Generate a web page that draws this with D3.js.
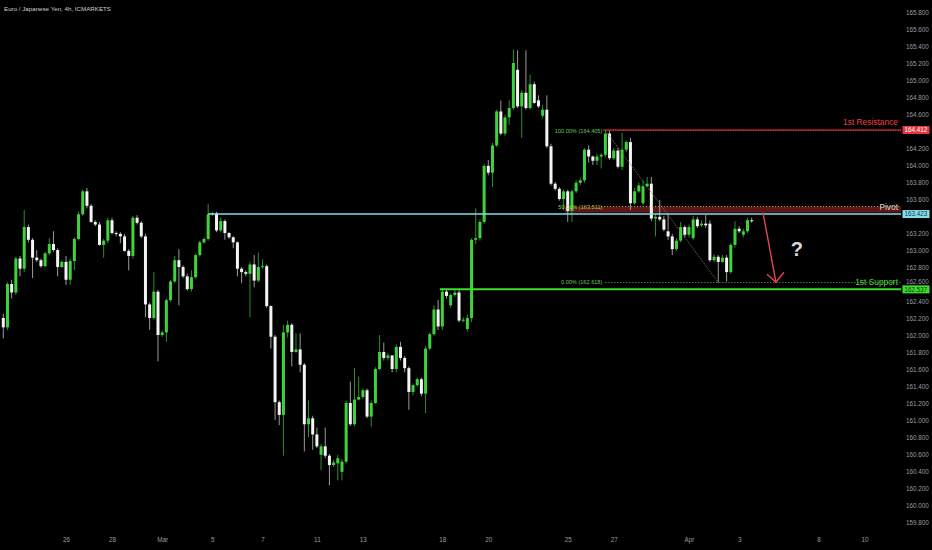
<!DOCTYPE html>
<html><head><meta charset="utf-8">
<script src="https://cdn.jsdelivr.net/npm/d3@7"></script>
<style>html,body{margin:0;background:#000;}svg{display:block;}</style>
</head><body>
<svg id="c" width="932" height="550"></svg>
<script>
const opens=[162.20,162.09,162.60,162.50,162.90,162.78,163.27,163.12,162.91,162.88,162.81,162.96,163.07,163.00,162.80,162.86,162.65,162.87,163.13,163.42,
163.69,163.52,163.33,163.30,163.06,163.11,163.35,163.20,163.19,163.16,162.99,162.93,163.38,163.32,163.16,162.36,162.20,162.51,162.00,162.03,
162.41,162.63,162.88,162.80,162.69,162.54,162.68,162.94,163.09,163.13,163.42,163.43,163.23,163.34,163.20,163.15,163.09,162.78,162.74,162.72,
162.83,162.64,162.80,162.81,162.34,161.98,161.21,161.06,162.03,162.12,161.80,161.83,161.65,160.95,161.02,160.83,160.59,160.69,160.58,160.47,
160.49,160.39,160.51,161.20,160.95,161.24,161.27,161.35,161.04,161.20,161.60,161.80,161.73,161.76,161.60,161.86,161.73,161.61,161.33,161.41,
161.48,161.31,161.84,162.01,162.30,162.10,162.51,162.35,162.47,162.50,162.17,162.07,162.20,163.12,163.14,163.33,163.99,163.91,164.23,164.63,
164.37,164.56,164.67,165.12,164.69,164.85,164.67,164.95,164.76,164.58,164.65,164.22,163.78,163.72,163.60,163.69,163.46,163.69,163.79,163.82,
164.18,164.10,164.05,164.10,164.12,164.37,164.08,164.17,163.98,164.18,164.27,163.55,163.69,163.55,163.75,163.78,163.37,163.39,163.36,163.22,
163.16,163.01,163.11,163.27,163.18,163.14,163.36,163.29,163.31,163.31,162.88,162.92,162.86,162.91,162.74,163.06,163.25,163.18,163.22,163.35];
const highs=[162.25,162.62,162.65,162.92,162.93,163.47,163.30,163.14,163.00,162.90,162.98,163.14,163.22,163.02,162.88,162.93,162.90,163.15,163.45,163.71,
163.73,163.54,163.35,163.33,163.13,163.38,163.38,163.22,163.21,163.19,163.01,163.40,163.41,163.34,163.19,162.38,162.74,162.53,162.05,162.43,
162.65,162.93,163.01,162.82,162.72,162.76,162.96,163.11,163.15,163.54,163.45,163.45,163.38,163.36,163.21,163.16,163.10,162.80,162.76,162.86,
162.94,162.97,162.89,162.83,162.35,162.00,161.23,162.12,162.17,162.14,162.02,162.02,161.67,161.23,161.05,160.91,160.72,160.91,160.60,160.53,
160.59,160.54,161.23,161.45,161.61,161.51,161.37,161.37,161.23,161.62,162.00,161.91,161.79,161.76,161.89,161.92,161.75,161.63,161.43,161.50,
161.50,161.87,162.03,162.35,162.41,162.55,162.54,162.49,162.54,162.53,162.21,162.24,163.14,163.49,163.36,164.01,164.06,164.26,164.65,164.76,
164.59,164.76,165.36,165.35,164.88,165.35,165.06,164.98,164.82,164.71,164.82,164.25,163.80,163.74,163.71,163.71,163.71,163.82,163.85,164.20,
164.23,164.11,164.13,164.14,164.405,164.40,164.20,164.20,164.38,164.29,164.32,163.73,163.79,163.82,163.86,163.86,163.42,163.59,163.40,163.43,
163.19,163.14,163.33,163.29,163.30,163.40,163.39,163.35,163.41,163.35,162.95,162.94,162.94,162.94,163.08,163.34,163.28,163.25,163.38,163.38];
const lows=[161.96,162.06,162.43,162.47,162.69,162.74,163.09,162.67,162.86,162.79,162.80,162.94,162.98,162.69,162.79,162.59,162.59,162.76,163.11,163.40,
163.49,163.32,163.28,163.05,162.91,163.08,163.18,163.16,163.08,162.98,162.76,162.90,163.30,163.14,162.21,162.06,162.18,161.69,161.98,161.92,
162.39,162.61,162.35,162.67,162.52,162.51,162.66,162.92,163.07,163.11,163.40,163.21,163.21,163.12,163.13,163.02,162.69,162.61,162.69,162.21,
162.56,162.62,162.78,162.32,161.84,161.00,160.94,160.58,161.97,161.63,161.79,161.56,160.63,160.80,160.65,160.67,160.41,160.55,160.23,160.45,
160.29,160.29,160.49,160.93,160.93,161.23,161.25,161.02,160.92,161.19,161.58,161.70,161.70,161.56,161.56,161.70,161.56,161.12,161.29,161.39,
161.28,161.08,161.82,161.99,162.06,162.06,162.43,162.32,162.45,162.15,162.15,162.04,162.15,163.07,163.11,163.31,163.88,163.74,164.21,164.35,
164.34,164.47,164.65,164.67,164.32,164.65,164.65,164.72,164.67,164.55,164.20,163.76,163.70,163.58,163.47,163.33,163.33,163.67,163.76,163.79,
164.03,164.00,164.00,163.96,164.09,164.06,164.06,163.96,163.94,164.15,163.47,163.53,163.67,163.53,163.74,163.34,163.16,163.34,163.22,163.12,
162.94,162.99,163.09,163.15,163.15,163.12,163.26,163.27,163.26,162.86,162.86,162.62,162.85,162.63,162.72,163.03,163.20,163.15,163.20,163.32];
const closes=[162.09,162.60,162.50,162.90,162.78,163.27,163.12,162.91,162.88,162.81,162.96,163.07,163.00,162.80,162.86,162.65,162.87,163.13,163.42,163.69,
163.52,163.33,163.30,163.06,163.11,163.35,163.20,163.19,163.16,162.99,162.93,163.38,163.32,163.16,162.36,162.20,162.51,162.00,162.03,162.41,
162.63,162.88,162.80,162.69,162.54,162.68,162.94,163.09,163.13,163.42,163.43,163.23,163.34,163.20,163.15,163.09,162.78,162.74,162.72,162.83,
162.64,162.80,162.81,162.34,161.98,161.21,161.06,162.03,162.12,161.80,161.83,161.65,160.95,161.02,160.83,160.69,160.69,160.58,160.47,160.50,
160.55,160.51,161.20,160.95,161.24,161.27,161.35,161.04,161.20,161.60,161.80,161.73,161.76,161.60,161.86,161.73,161.61,161.33,161.41,161.48,
161.31,161.84,162.01,162.30,162.10,162.51,162.46,162.47,162.50,162.17,162.18,162.20,163.12,163.14,163.33,163.99,163.91,164.23,164.63,164.37,
164.56,164.67,165.20,164.69,164.85,164.67,164.95,164.73,164.69,164.65,164.22,163.78,163.72,163.60,163.69,163.46,163.69,163.79,163.82,164.18,
164.10,164.05,164.10,164.12,164.37,164.08,164.17,163.98,164.18,164.27,163.55,163.69,163.76,163.75,163.78,163.37,163.39,163.36,163.24,163.16,
163.01,163.11,163.27,163.18,163.27,163.36,163.28,163.31,163.29,162.88,162.92,162.86,162.91,162.74,163.06,163.25,163.22,163.22,163.35,163.34];

// 163.400 is hidden behind the pivot price box in the reference
const priceTicks=[165.8,165.6,165.4,165.2,165.0,164.8,164.6,164.4,164.2,164.0,163.8,163.6,163.2,163.0,162.8,162.6,162.4,162.2,162.0,161.8,161.6,161.4,161.2,161.0,160.8,160.6,160.4,160.2,160.0,159.8];
const dateLabels=["26","28","Mar","5","7","11","13","18","20","25","27","Apr","3","8","10"];
const dateIdx=[15,26,38,50,62,75,86,105,116,135,146,164,176,195,206];

const resistance=164.412, pivot=163.423, support=162.537;
const fibLevels=[164.405,163.511,162.618];
const fibNames=["100.00% (164.405)","50.00% (163.511)","0.00% (162.618)"];
const fibHighIdx=144, fibLowIdx=171;
const arrowFrom={i:181.7,p:163.44}, arrowTo={i:184.8,p:162.62};
const questionAt={i:189.8,p:162.93};

const svg=d3.select("#c");
const W=932,H=550, plotR=901;
svg.append("rect").attr("width",W).attr("height",H).attr("fill","#000");
const x=d3.scaleLinear().domain([0,179]).range([3.3,751.7]);
const y=d3.scaleLinear().domain([159.8,165.8]).range([522,12]);
const FONT="'Liberation Sans', Arial, sans-serif";
const GREEN="#3fd33b", WHITE="#f4f4f4";

// y axis
const ya=svg.append("g").attr("transform",`translate(906,0)`)
  .call(d3.axisRight(y).tickValues(priceTicks).tickFormat(d3.format(".3f")).tickSize(0).tickPadding(0));
ya.select(".domain").remove();
ya.selectAll("text").attr("fill","#9a9ca3").attr("font-size","6.3px").attr("font-family",FONT);
ya.selectAll(".tick").filter(d=>d===162.6).select("text").attr("dy","-0.05em");

// x axis
const xa=svg.append("g").attr("transform",`translate(0,538)`)
  .call(d3.axisBottom(x).tickValues(dateIdx).tickFormat((d,i)=>dateLabels[i]).tickSize(0).tickPadding(0));
xa.select(".domain").remove();
xa.selectAll("text").attr("fill","#9a9ca3").attr("font-size","6.3px").attr("font-family",FONT);

// title
svg.append("text").attr("x",4).attr("y",11).attr("fill","#cfcfcf").attr("font-size","6.2px")
  .attr("font-family",FONT).text("Euro / Japanese Yen, 4h, ICMARKETS");

// red zone between fib 50% and pivot
svg.append("rect").attr("x",x(134.3)).attr("width",plotR-x(134.3))
  .attr("y",y(fibLevels[1])).attr("height",y(163.44)-y(fibLevels[1])).attr("fill","#5e1616");

// candles
const data=opens.map((o,i)=>({i,o,h:highs[i],l:lows[i],c:closes[i]}));
const g=svg.append("g");
g.selectAll("line.w").data(data).join("line").attr("class","w")
  .attr("x1",d=>x(d.i)).attr("x2",d=>x(d.i)).attr("y1",d=>y(d.h)).attr("y2",d=>y(d.l))
  .attr("stroke",d=>d.c>=d.o?"#2c8f2a":"#9a9a9a").attr("stroke-width",1);
g.selectAll("rect.b").data(data).join("rect").attr("class","b")
  .attr("x",d=>x(d.i)-1.5).attr("width",3)
  .attr("y",d=>y(Math.max(d.o,d.c))).attr("height",d=>Math.max(1,Math.abs(y(d.o)-y(d.c))))
  .attr("fill",d=>d.c>=d.o?GREEN:WHITE);

// fib levels
svg.append("line").attr("x1",x(fibHighIdx)).attr("x2",plotR).attr("y1",y(fibLevels[0])).attr("y2",y(fibLevels[0]))
  .attr("stroke","#e0404a").attr("stroke-width",1).attr("stroke-dasharray","1,1.5");
svg.append("line").attr("x1",x(143)).attr("x2",plotR).attr("y1",y(fibLevels[1])).attr("y2",y(fibLevels[1]))
  .attr("stroke","#a6c96a").attr("stroke-width",1).attr("stroke-dasharray","1,2");
svg.append("line").attr("x1",x(144)).attr("x2",plotR).attr("y1",y(fibLevels[2])).attr("y2",y(fibLevels[2]))
  .attr("stroke","#4fc44a").attr("stroke-width",1).attr("stroke-dasharray","1,2");
svg.append("line").attr("x1",x(fibHighIdx)).attr("y1",y(fibLevels[0])).attr("x2",x(fibLowIdx)).attr("y2",y(fibLevels[2]))
  .attr("stroke","#7a7a7a").attr("stroke-width",0.7).attr("stroke-dasharray","2,1");
fibLevels.forEach((p,k)=>{
  svg.append("text").attr("x",x(fibHighIdx)-3).attr("y",y(p)+2).attr("text-anchor","end")
    .attr("fill",k==1?"#9fcf5e":"#6cc453").attr("font-size","5.6px").attr("font-family",FONT).text(fibNames[k]);
});

// key levels
svg.append("line").attr("x1",x(143.4)).attr("x2",plotR).attr("y1",y(resistance)).attr("y2",y(resistance))
  .attr("stroke","#e5363e").attr("stroke-width",1);
svg.append("line").attr("x1",x(49)).attr("x2",plotR).attr("y1",y(pivot)).attr("y2",y(pivot))
  .attr("stroke","#86dcec").attr("stroke-width",1.5);
svg.append("line").attr("x1",x(104.4)).attr("x2",plotR).attr("y1",y(support)).attr("y2",y(support))
  .attr("stroke","#3ddc2f").attr("stroke-width",2);

const lbl=(t,yy,col)=>svg.append("text").attr("x",898).attr("y",yy).attr("text-anchor","end")
  .attr("fill",col).attr("font-size","8.4px").attr("font-family",FONT).text(t);
lbl("1st Resistance",y(resistance)-4.5,"#e5404a");
lbl("Pivot",y(pivot)-4.5,"#d6d6d6");
lbl("1st Support",y(fibLevels[2])+3,"#4ddc3c");

// price boxes
const box=(p,bg,fg)=>{
  svg.append("rect").attr("x",902.5).attr("y",y(p)-4).attr("width",27).attr("height",8).attr("fill",bg);
  svg.append("text").attr("x",916).attr("y",y(p)+2.2).attr("text-anchor","middle").attr("fill",fg)
    .attr("font-size","6.3px").attr("font-family",FONT).text(p.toFixed(3));
};
box(resistance,"#e5363e","#ffffff");
box(pivot,"#86dcec","#0e3a44");
box(support,"#3ddc2f","#0c3a0c");

// arrow
const ax1=x(arrowFrom.i), ay1=y(arrowFrom.p), ax2=x(arrowTo.i), ay2=y(arrowTo.p);
svg.append("line").attr("x1",ax1).attr("y1",ay1).attr("x2",ax2).attr("y2",ay2).attr("stroke","#e5454f").attr("stroke-width",1.4);
svg.append("path").attr("d",`M${ax2-9},${ay2-8}L${ax2},${ay2}L${ax2+8},${ay2-10}`)
  .attr("fill","none").attr("stroke","#e5454f").attr("stroke-width",1.4);
svg.append("text").attr("x",x(questionAt.i)).attr("y",y(questionAt.p)).attr("text-anchor","middle")
  .attr("fill","#d9d9d9").attr("font-size","20px").attr("font-weight","bold").attr("font-family",FONT).text("?");
</script>
</body></html>
